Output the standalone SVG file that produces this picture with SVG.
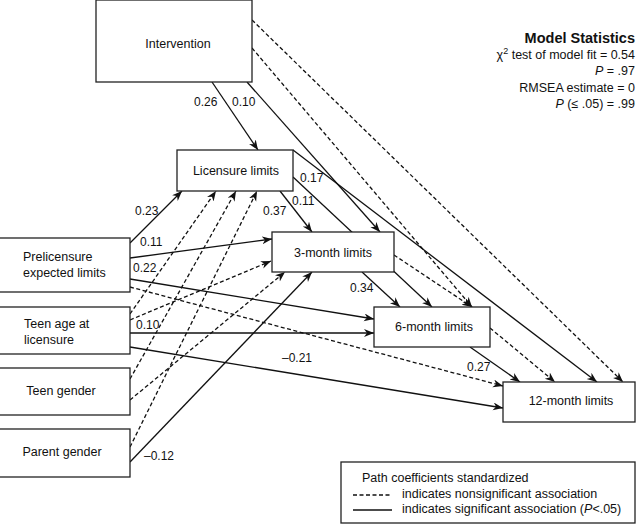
<svg xmlns="http://www.w3.org/2000/svg" width="640" height="524" viewBox="0 0 640 524">
<style>
text{font-family:"Liberation Sans",Arial,sans-serif;fill:#111}
.node rect{fill:#fff;stroke:#222;stroke-width:1.3}
.nl{font-size:12.5px;text-anchor:middle}
.nll{font-size:12.5px}
.el{font-size:12px}
.s{stroke:#111;stroke-width:1.3;fill:none;marker-end:url(#ah)}
.d{stroke:#111;stroke-width:1.3;fill:none;stroke-dasharray:4 2.5;marker-end:url(#ah)}
.st{font-size:12.5px;text-anchor:end}
.lg{font-size:12.5px}
</style>
<defs>
<marker id="ah" markerUnits="userSpaceOnUse" markerWidth="12" markerHeight="10" refX="10" refY="4" orient="auto">
<path d="M0,0 L10,4 L0,8 L3,4 z" fill="#111" stroke="none"/>
</marker>
</defs>
<rect width="640" height="524" fill="#fff"/>
<g id="connectors">
<line class="s" x1="212" y1="82" x2="258" y2="150"/>
<line class="s" x1="247" y1="82" x2="380" y2="232"/>
<line class="d" x1="252" y1="48" x2="472" y2="307"/>
<line class="d" x1="252" y1="20" x2="623" y2="382"/>
<line class="s" x1="293" y1="150" x2="597" y2="382"/>
<line class="s" x1="293" y1="177" x2="432" y2="307"/>
<line class="s" x1="280" y1="191" x2="312" y2="232"/>
<line class="s" x1="362" y1="272" x2="400" y2="307"/>
<line class="d" x1="394" y1="255" x2="472" y2="307"/>
<line class="d" x1="490" y1="328" x2="555" y2="382"/>
<line class="s" x1="470" y1="347" x2="520" y2="382"/>
<line class="s" x1="130" y1="243" x2="182" y2="191"/>
<line class="s" x1="130" y1="258" x2="272" y2="239"/>
<line class="s" x1="130" y1="279" x2="374" y2="319"/>
<line class="d" x1="130" y1="287" x2="503" y2="386"/>
<line class="d" x1="130" y1="314" x2="216" y2="191"/>
<line class="d" x1="130" y1="320" x2="271" y2="261"/>
<line class="s" x1="130" y1="333" x2="374" y2="333"/>
<line class="s" x1="130" y1="347" x2="503" y2="408"/>
<line class="d" x1="130" y1="379" x2="236" y2="191"/>
<line class="d" x1="130" y1="400" x2="285" y2="272"/>
<line class="d" x1="130" y1="447" x2="257" y2="191"/>
<line class="s" x1="130" y1="462" x2="312" y2="272"/>
</g>
<g id="node-intervention" class="node"><rect x="96" y="0" width="156" height="82"/><text class="nl" x="178" y="48">Intervention</text></g>
<g id="node-licensure" class="node"><rect x="177" y="150" width="116" height="41"/><text class="nl" x="236" y="175">Licensure limits</text></g>
<g id="node-3month" class="node"><rect x="272" y="232" width="122" height="40"/><text class="nl" x="333" y="257">3-month limits</text></g>
<g id="node-6month" class="node"><rect x="374" y="307" width="116" height="40"/><text class="nl" x="434" y="331">6-month limits</text></g>
<g id="node-12month" class="node"><rect x="503" y="382" width="132" height="40"/><text class="nl" x="571" y="405">12-month limits</text></g>
<g id="node-prelicensure" class="node"><rect x="-2" y="238" width="132" height="54"/><text class="nll" x="23" y="261">Prelicensure</text><text class="nll" x="23" y="277">expected limits</text></g>
<g id="node-teenage" class="node"><rect x="-2" y="307" width="132" height="47"/><text class="nll" x="24" y="328">Teen age at</text><text class="nll" x="24" y="344">licensure</text></g>
<g id="node-teengender" class="node"><rect x="-2" y="368" width="132" height="47"/><text class="nl" x="61" y="395">Teen gender</text></g>
<g id="node-parentgender" class="node"><rect x="-2" y="429" width="132" height="48"/><text class="nl" x="62" y="456">Parent gender</text></g>
<g id="edge-labels">
<text class="el" x="194" y="106">0.26</text>
<text class="el" x="232" y="106">0.10</text>
<text class="el" x="300" y="182">0.17</text>
<text class="el" x="292" y="205">0.11</text>
<text class="el" x="263" y="215">0.37</text>
<text class="el" x="135" y="215">0.23</text>
<text class="el" x="140" y="246">0.11</text>
<text class="el" x="133" y="272">0.22</text>
<text class="el" x="136" y="329">0.10</text>
<text class="el" x="282" y="362">–0.21</text>
<text class="el" x="144" y="460">–0.12</text>
<text class="el" x="350" y="292">0.34</text>
<text class="el" x="467" y="371">0.27</text>
</g>
<g id="model-statistics">
<text x="635" y="43" style="font-size:14.5px;font-weight:bold;text-anchor:end">Model Statistics</text>
<text class="st" x="635" y="59">χ<tspan font-size="9" dy="-5">2</tspan><tspan dy="5"> test of model fit = 0.54</tspan></text>
<text class="st" x="635" y="75"><tspan font-style="italic">P</tspan> = .97</text>
<text class="st" x="635" y="92">RMSEA estimate = 0</text>
<text class="st" x="635" y="108"><tspan font-style="italic">P</tspan> (≤ .05) = .99</text>
</g>
<g id="legend">
<rect x="341" y="462" width="294" height="61" fill="#fff" stroke="#222" stroke-width="1.3"/>
<text class="lg" x="362" y="482">Path coefficients standardized</text>
<line x1="353" y1="495" x2="391" y2="495" stroke="#111" stroke-width="1.3" stroke-dasharray="4 2.5"/>
<text class="lg" x="402" y="498">indicates nonsignificant association</text>
<line x1="353" y1="510" x2="392" y2="510" stroke="#111" stroke-width="1.3"/>
<text class="lg" x="402" y="513">indicates significant association (<tspan font-style="italic">P</tspan>&lt;.05)</text>
</g>
</svg>
